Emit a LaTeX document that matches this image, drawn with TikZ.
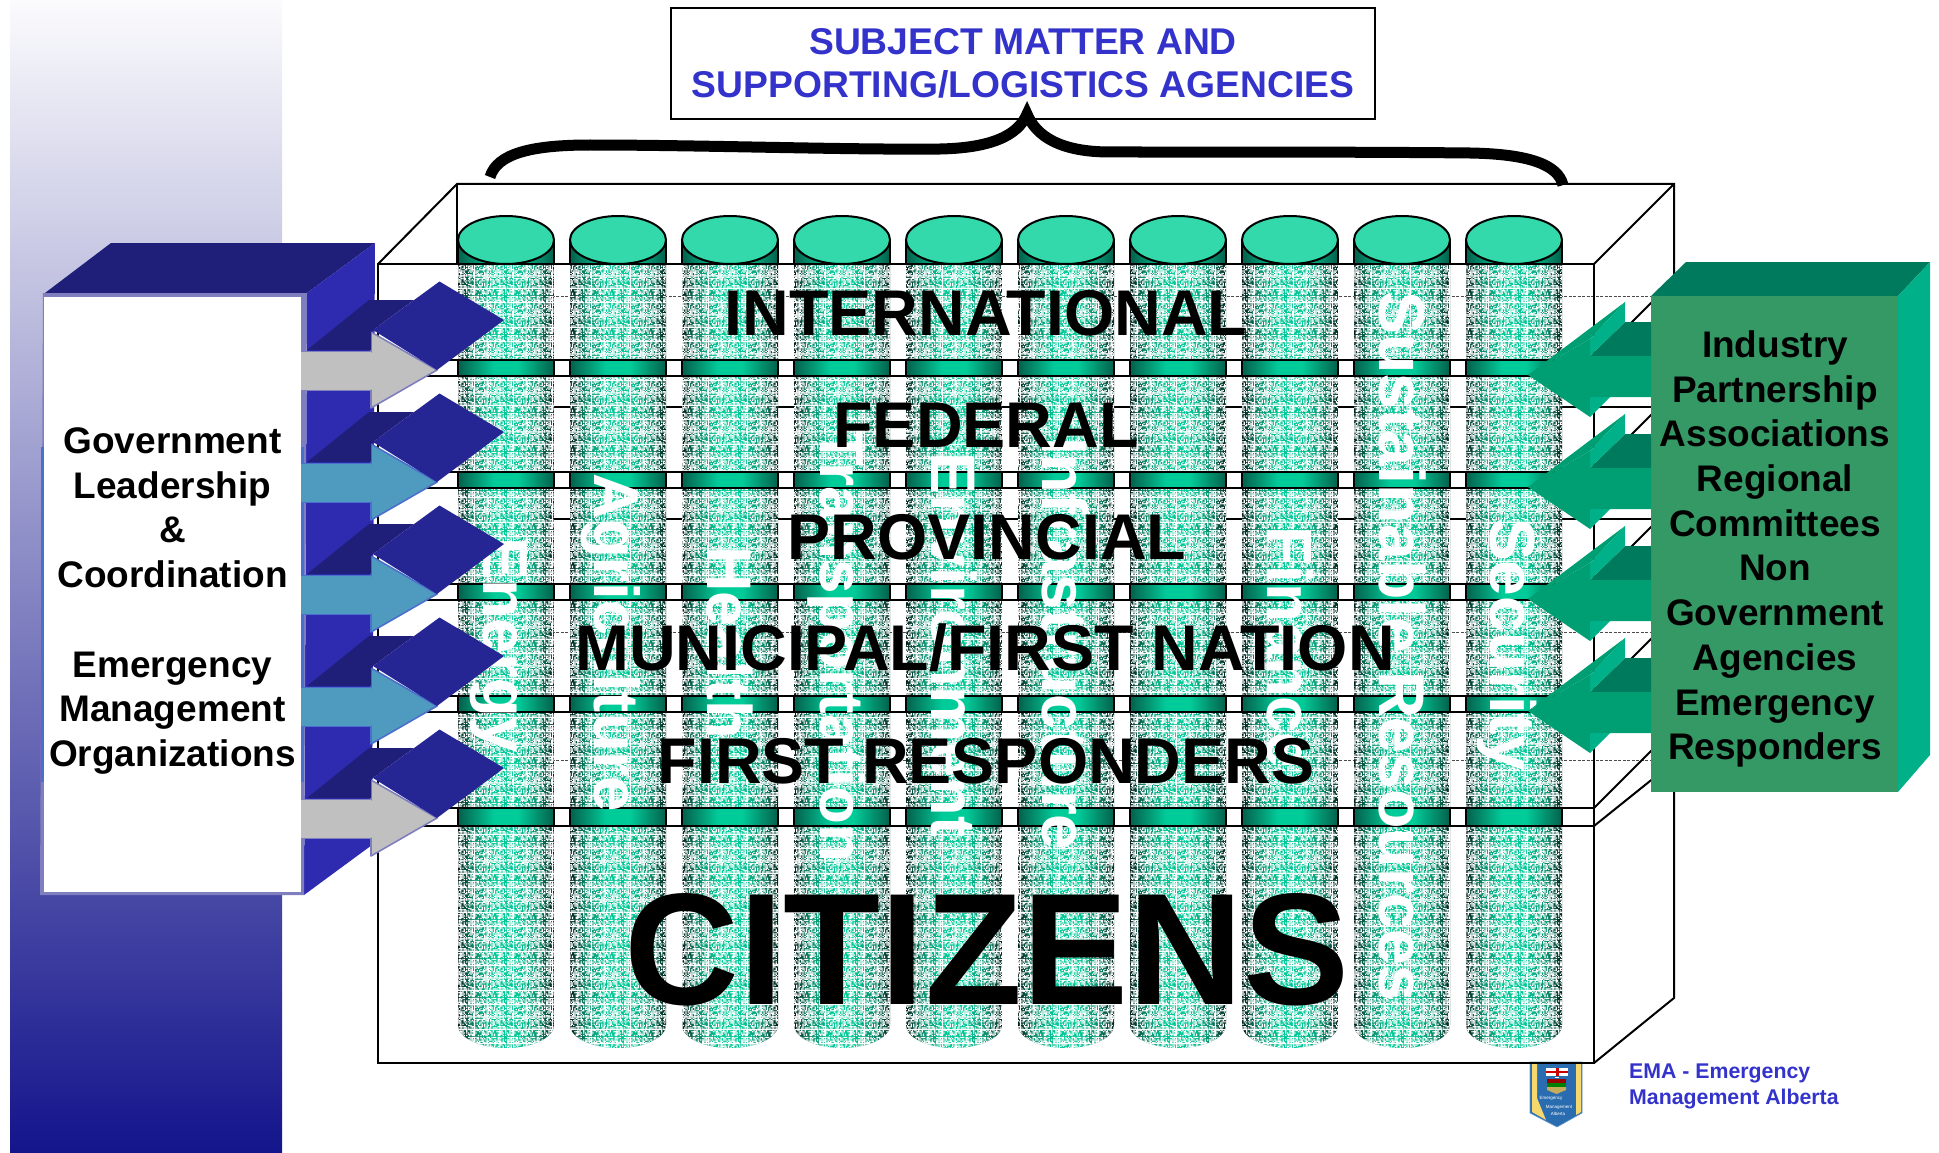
\documentclass[tikz,border=0pt]{standalone}
\usepackage{fontspec}
\setmainfont{Liberation Sans}
\usetikzlibrary{patterns,calc}
\definecolor{cEdge}{HTML}{00201A}
\definecolor{cMid}{HTML}{0A8A6A}
\definecolor{cCen}{HTML}{00C896}
\definecolor{bEdge}{HTML}{05604C}
\definecolor{bCen}{HTML}{00CC99}
\definecolor{capC}{HTML}{33D9AB}
\definecolor{navyTop}{HTML}{1F1F7A}
\definecolor{navySide}{HTML}{2E2BB0}
\definecolor{navyHead}{HTML}{252594}
\definecolor{arrGrey}{HTML}{C0C0C0}
\definecolor{arrBlue}{HTML}{4F9BC0}
\definecolor{lnLav}{HTML}{7F7FC0}
\definecolor{lnBlue}{HTML}{4A6FCC}
\definecolor{titleBlue}{HTML}{3333CC}
\definecolor{gFace}{HTML}{359966}
\definecolor{gTop}{HTML}{007A5C}
\definecolor{gSide}{HTML}{00B088}
\definecolor{gArrow}{HTML}{009E73}
\definecolor{shBlue}{HTML}{2A6CB0}
\definecolor{shYel}{HTML}{F5D76E}
\definecolor{gradTop}{HTML}{FBFBFD}
\definecolor{gradBot}{HTML}{14148C}
\pgfdeclarehorizontalshading{cylsh}{100bp}{color(0bp)=(cEdge); color(25bp)=(cEdge); color(33bp)=(cMid); color(44bp)=(cCen); color(56bp)=(cCen); color(67bp)=(cMid); color(75bp)=(cEdge); color(100bp)=(cEdge)}
\pgfdeclarehorizontalshading{bandsh}{100bp}{color(0bp)=(bEdge); color(25bp)=(bEdge); color(44bp)=(bCen); color(56bp)=(bCen); color(75bp)=(bEdge); color(100bp)=(bEdge)}
\pgfdeclarepatternformonly{cylnoise}{\pgfqpoint{0pt}{0pt}}{\pgfqpoint{39pt}{39pt}}{\pgfqpoint{39pt}{39pt}}{%
  \pgfmathsetseed{4242}%
  \foreach \i in {0,...,30}{\foreach \j in {0,...,30}{%
    \pgfmathrandominteger{\rr}{0}{99}%
    \ifnum\rr<50\relax
      \pgfpathrectangle{\pgfqpoint{\dimexpr1.2581pt*\i\relax}{\dimexpr1.2581pt*\j\relax}}{\pgfqpoint{1.2581pt}{1.2581pt}}%
      \pgfusepath{fill}%
    \fi}}%
  \pgfpathrectangle{\pgfqpoint{0pt}{6pt}}{\pgfqpoint{39pt}{1pt}}\pgfusepath{fill}%
  \pgfpathrectangle{\pgfqpoint{0pt}{19pt}}{\pgfqpoint{39pt}{1pt}}\pgfusepath{fill}%
  \pgfpathrectangle{\pgfqpoint{0pt}{32pt}}{\pgfqpoint{39pt}{1pt}}\pgfusepath{fill}%
  \pgfpathrectangle{\pgfqpoint{6pt}{0pt}}{\pgfqpoint{1pt}{39pt}}\pgfusepath{fill}%
  \pgfpathrectangle{\pgfqpoint{19pt}{0pt}}{\pgfqpoint{1pt}{39pt}}\pgfusepath{fill}%
  \pgfpathrectangle{\pgfqpoint{32pt}{0pt}}{\pgfqpoint{1pt}{39pt}}\pgfusepath{fill}%
}
\newcommand{\bfs}[1]{\fontsize{#1}{#1}\selectfont\bfseries}
\tikzset{
  frameline/.style={draw=black,line width=2.5pt},
  thinframe/.style={draw=black,line width=2pt},
  dashline/.style={draw=black!70,line width=1pt,dash pattern=on 3pt off 1.5pt},
  levelbl/.style={anchor=base,inner sep=0pt,font=\bfs{64.6},text=black},
  cyllab/.style={anchor=base west,rotate=-90,inner sep=0pt,text=white},
  greytip/.style={fill=arrGrey,draw=lnLav,line width=1.6pt,line join=round},
  bluetip/.style={fill=arrBlue,draw=lnBlue,line width=1.6pt,line join=round},
}
\begin{document}
\begin{tikzpicture}[x=1pt,y=-1pt]
\useasboundingbox (0,0) rectangle (1939,1153);
% page gradient band
\shade[top color=gradTop,bottom color=gradBot] (10,0) rectangle (282,1153);
% back parts of the frame
\draw[thinframe] (378,264) -- (457,184) -- (1674,184) -- (1674,998) -- (1594,1063);
\draw[thinframe] (457,184) -- (457,264);
\draw[thinframe] (1594,264) -- (1674,184);
\foreach \yy in {296,632,760} \draw[dashline] (457,\yy) -- (1651,\yy);
\foreach \yy in {407,519} \draw[thinframe,line width=2.4pt] (457,\yy) -- (1660,\yy);
\foreach \yy in {360,472,584,696,808} \draw[thinframe] (1594,\yy) -- (1660,\yy-66);
\foreach \yy in {376,488,600,712,826} \draw[thinframe] (1594,\yy) -- (1660,\yy-53);
% cylinders
\foreach \k in {0,...,9}{
  \begin{scope}[shift={(506+112*\k,0)}]
    \shade[shading=bandsh] (-48,240) -- (48,240) -- (48,264) -- (-48,264) -- cycle;
    \draw[black,line width=1.4pt] (-48,240) -- (-48,264) (48,240) -- (48,264);
    \path[shading=cylsh] (-48,264) -- (48,264) -- (48,1025) arc[start angle=0,end angle=180,x radius=48,y radius=23] -- cycle;
    \fill[pattern=cylnoise,pattern color=white] (-48,264) -- (48,264) -- (48,1025) arc[start angle=0,end angle=180,x radius=48,y radius=23] -- cycle;
    \filldraw[fill=capC,draw=black,line width=2pt] (0,240) ellipse[x radius=48,y radius=24];
    \foreach \yt/\yb in {360/376,472/488,584/600,696/712,808/825}{
      \shade[shading=bandsh] (-48,\yt) rectangle (48,\yb);
      \draw[black,line width=1.6pt] (-48,\yt) -- (-48,\yb) (48,\yt) -- (48,\yb);
    }
  \end{scope}
}
% logo behind the frame
\filldraw[fill=shBlue,draw=shBlue!70!white,line width=0.6pt] (1530,1062) -- (1582,1062) -- (1582,1113) -- (1557,1127) -- (1530,1113) -- cycle;
\fill[shYel] (1532,1062) -- (1537,1062) -- (1537,1098) -- (1546,1120) -- (1532,1112) -- cycle;
\fill[shYel] (1576,1062) -- (1581,1062) -- (1581,1112) -- (1576,1115) -- cycle;
\fill[white] (1546,1068) rectangle (1568,1076);
\fill[red!80!black] (1546,1071.2) rectangle (1568,1072.8);
\fill[red!80!black] (1555.5,1068) rectangle (1558.5,1076);
\fill[white] (1555,1076.5) rectangle (1559,1078);
\fill[red!60!black] (1547,1079) rectangle (1566,1083);
\fill[green!50!black] (1547,1083) rectangle (1566,1087);
\fill[shYel!80!black] (1547,1087) -- (1566,1087) -- (1566,1090) -- (1556.5,1094) -- (1547,1090) -- cycle;
\node[inner sep=0pt,text=white,font=\fontsize{4.5}{4.5}\selectfont] (logoA) at (1551,1098) {Emergency};
\node[inner sep=0pt,text=white,font=\fontsize{4.5}{4.5}\selectfont] (logoB) at (1559,1107) {Management};
\node[inner sep=0pt,text=white,font=\fontsize{4.5}{4.5}\selectfont] (logoC) at (1558,1114) {Alberta};
% front of the frame
\draw[frameline] (378,264) rectangle (1594,1063);
\foreach \yy in {360,376,472,488,584,600,696,712,808,826} \draw[frameline] (378,\yy) -- (1594,\yy);
% cylinder labels
\node[cyllab,font=\bfs{63.5}] (lab1) at (483,537) {Energy};
\node[cyllab,font=\bfs{63.5}] (lab2) at (594,473) {Agriculture};
\node[cyllab,font=\bfs{63}] (lab3) at (707,546) {Health};
\node[cyllab,font=\bfs{62}] (lab4) at (820,428) {Transportation};
\node[cyllab,font=\bfs{63}] (lab5) at (931,452) {Environment};
\node[cyllab,font=\bfs{63.5}] (lab6) at (1042,437) {Infrastructure};
\node[cyllab,font=\bfs{64}] (lab8) at (1267,526) {Finance};
\node[cyllab,font=\bfs{64.5}] (lab9) at (1379,291) {Sustainable Resources};
\node[cyllab,font=\bfs{64}] (lab10) at (1490,518) {Security};
% level labels
\node[levelbl] (intl) at (986,335) {INTERNATIONAL};
\node[levelbl] (fed) at (986,447) {FEDERAL};
\node[levelbl] (prov) at (987,559) {PROVINCIAL};
\node[levelbl] (muni) at (985,670) {MUNICIPAL/FIRST NATION};
\node[levelbl] (resp) at (986,783) {FIRST RESPONDERS};
\node[levelbl,font=\bfs{159}] (citz) at (987,1004) {CITIZENS};
% left box
\fill[navyTop] (45,293) -- (111,243) -- (375,243) -- (307,293) -- cycle;
\fill[navySide] (307,293) -- (375,243) -- (372,845) -- (304,895) -- cycle;
\fill[lnLav] (43,293) -- (307,293) -- (304,895) -- (40,895) -- cycle;
\fill[lnBlue] (41,447) rectangle (304,782);
\fill[white] (44,297) rectangle (301,892);
% left arrows
\foreach \k/\sty in {0/greytip,1/bluetip,2/bluetip,3/bluetip,4/greytip}{
  \begin{scope}[shift={(0,112*\k)}]
    \draw[\sty] (301,352) -- (371,352) -- (371,332) -- (437,370) -- (371,408) -- (371,390) -- (301,390);
    \fill[\sty,draw=none] (301,352) rectangle (371,390);
    \fill[navyTop] (307,350) -- (369,300) -- (414,300) -- (373,330) -- (371,332) -- (371,350) -- cycle;
    \fill[navyHead] (373,330) -- (439.5,281.5) -- (504,320) -- (437,370) -- cycle;
  \end{scope}
}
\node[inner sep=0pt,align=center,font=\fontsize{37}{44.7}\selectfont\bfseries] (lefttxt) at (172.5,601) {Government\\Leadership\\\&\\Coordination\\\mbox{}\\Emergency\\Management\\Organizations};
% right box
\fill[gTop] (1651,296) -- (1686,262) -- (1930,262) -- (1898,296) -- cycle;
\fill[gSide] (1898,296) -- (1930,262) -- (1930,755) -- (1898,792) -- cycle;
\fill[gFace] (1651,296) rectangle (1898,792);
\foreach \k in {0,1,2,3}{
  \begin{scope}[shift={(0,112*\k)}]
    \fill[gTop] (1590,356) -- (1625,322) -- (1651,322) -- (1651,356) -- cycle;
    \fill[gArrow] (1528,375) -- (1625,302) -- (1590,339) -- cycle;
    \fill[gSide] (1590,339) -- (1625,302) -- (1625,322) -- (1590,356) -- cycle;
    \fill[gArrow] (1528,375) -- (1590,339) -- (1590,356) -- (1651,356) -- (1651,397) -- (1590,397) -- (1590,417) -- cycle;
    \fill[gSide] (1590,397) -- (1610,397) -- (1590,417) -- cycle;
  \end{scope}
}
\node[inner sep=0pt,align=center,font=\fontsize{37}{44.7}\selectfont\bfseries] (righttxt) at (1775,549) {Industry\\Partnership\\Associations\\Regional\\Committees\\Non\\Government\\Agencies\\Emergency\\Responders};
% title box and brace
\node[draw=black,line width=1.4pt,fill=white,minimum width=704pt,minimum height=111pt,inner sep=0pt,align=center,text=titleBlue,font=\fontsize{37.25}{43.5}\selectfont\bfseries] (title) at (1023,63.5) {\raisebox{-1pt}{SUBJECT MATTER AND}\\\raisebox{-1pt}{SUPPORTING/LOGISTICS AGENCIES}};
\draw[black,line width=11pt,line join=miter,line cap=butt] (490,177) .. controls (497,154) and (530,145) .. (590,145) .. controls (700,145) and (850,150) .. (940,149) .. controls (990,148) and (1018,136) .. (1027,114) .. controls (1036,136) and (1060,152) .. (1110,152) .. controls (1250,152) and (1380,152) .. (1470,153) .. controls (1530,154) and (1558,165) .. (1563,185);
% footer text
\node[anchor=base west,inner sep=0pt,align=left,text=titleBlue,font=\fontsize{21.3}{26}\selectfont\bfseries] (ema) at (1629,1104) {EMA - Emergency\\Management Alberta};
\end{tikzpicture}
\end{document}
